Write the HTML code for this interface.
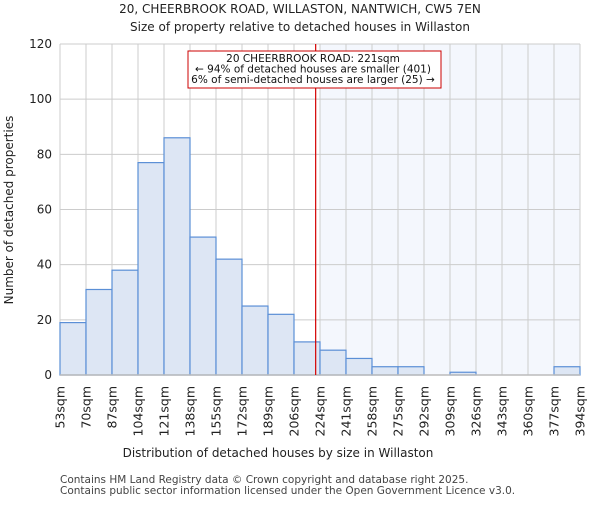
<!DOCTYPE html>
<html><head><meta charset="utf-8"><style>
body{margin:0;background:#fff;font-family:"Liberation Sans","DejaVu Sans",sans-serif;}
svg text{font-family:"DejaVu Sans","Liberation Sans",sans-serif;}
</style></head><body>
<svg id="c" width="600" height="500" xmlns="http://www.w3.org/2000/svg">
<text x="300" y="13" font-size="12" text-anchor="middle" fill="#222">20, CHEERBROOK ROAD, WILLASTON, NANTWICH, CW5 7EN</text>
<text x="300" y="31" font-size="12" text-anchor="middle" fill="#222">Size of property relative to detached houses in Willaston</text>
<g id="plot"></g>
<text x="278" y="457" font-size="12" text-anchor="middle" fill="#222">Distribution of detached houses by size in Willaston</text>
<text transform="translate(13,210) rotate(-90)" font-size="12" text-anchor="middle" fill="#222">Number of detached properties</text>
<text x="60" y="483" font-size="10.5" fill="#444">Contains HM Land Registry data © Crown copyright and database right 2025.</text>
<text x="60" y="494" font-size="10.5" fill="#444">Contains public sector information licensed under the Open Government Licence v3.0.</text>
</svg>
<script>
const edges=[53,70,87,104,121,138,155,172,189,206,224,241,258,275,292,309,326,343,360,377,394];
const counts=[19,31,38,77,86,50,42,25,22,12,9,6,3,3,0,1,0,0,0,3];
const yTicks=[0,20,40,60,80,100,120];
const marker=221;
const NS="http://www.w3.org/2000/svg";
const L=60,R=580,T=44,B=375,yMax=120;
const n=counts.length;
const xi=i=>L+(R-L)*i/n;
const xv=v=>{for(let i=0;i<edges.length-1;i++){if(v<=edges[i+1])return xi(i)+(v-edges[i])/(edges[i+1]-edges[i])*(xi(i+1)-xi(i));}return R;};
const y=v=>B-(B-T)*v/yMax;
const g=document.getElementById('plot');
function mk(t,a){const e=document.createElementNS(NS,t);for(const k in a)e.setAttribute(k,a[k]);g.appendChild(e);return e;}
let e;
const mi=edges.findIndex((v,i)=>i>0&&v>marker);
e=mk('rect',{x:xi(mi),y:T,width:R-xi(mi),height:B-T,fill:'#f4f7fd'});


for(let i=0;i<=n;i++){e=mk('line',{x1:xi(i),x2:xi(i),y1:T,y2:B,stroke:'#ccc','stroke-width':1});

}
yTicks.forEach(t=>{e=mk('line',{x1:L,x2:R,y1:y(t),y2:y(t),stroke:'#ccc','stroke-width':1});


e=mk('text',{x:L-8,y:y(t)+4,'font-size':12,'text-anchor':'end',fill:'#222'});e.textContent=t;

});
counts.forEach((c,i)=>{if(c<=0)return;e=mk('rect',{x:xi(i),y:y(c),width:xi(i+1)-xi(i),height:B-y(c),fill:'#dde6f4',stroke:'#5b8fd6','stroke-width':1.2});

});
edges.forEach((v,i)=>{e=mk('text',{transform:`translate(${xi(i)+4.5},386) rotate(-90)`,'font-size':12.5,'text-anchor':'end',fill:'#222'});e.textContent=v+'sqm';

});
e=mk('line',{x1:L,x2:R,y1:B,y2:B,stroke:'#bbb','stroke-width':1.5});


const mx=xv(marker);
e=mk('line',{x1:mx,x2:mx,y1:T,y2:B,stroke:'#d40000','stroke-width':1.2});


e=mk('rect',{x:188,y:51,width:253,height:37,fill:'#fff',stroke:'#cc0000','stroke-width':1});


["20 CHEERBROOK ROAD: 221sqm","← 94% of detached houses are smaller (401)","6% of semi-detached houses are larger (25) →"].forEach((s,i)=>{e=mk('text',{x:313,y:62+i*10.5,'font-size':10.5,'text-anchor':'middle',fill:'#111'});e.textContent=s;

});
</script>
</body></html>
